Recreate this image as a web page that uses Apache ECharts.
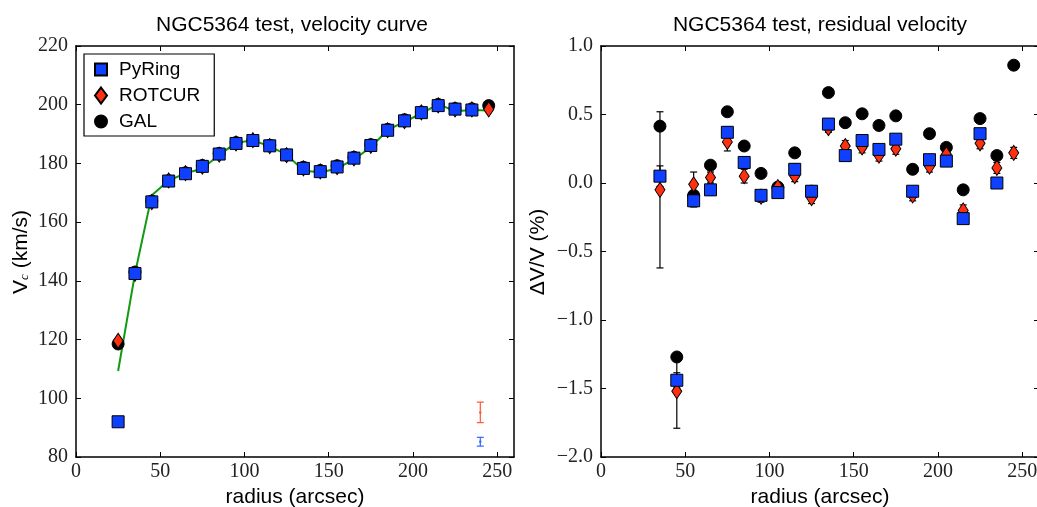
<!DOCTYPE html>
<html>
<head>
<meta charset="utf-8">
<script src="https://cdn.jsdelivr.net/npm/echarts@6/dist/echarts.min.js"></script>
<style>
html,body{margin:0;padding:0;background:#fff;}
#chart{width:1037px;height:507px;}
</style>
</head>
<body>
<div id="chart"></div>
<script>
// ---------- data ----------
const radius = [25,35,45,55,65,75,85,95,105,115,125,135,145,155,165,175,185,195,205,215,225,235,245];
// left panel: rotation velocities (km/s)
const pyringV = [92.0,142.5,166.9,174.0,176.5,179.0,183.2,186.8,187.8,186.0,182.9,178.3,177.2,178.8,181.8,186.1,191.3,194.5,197.3,199.7,198.5,198.2,null];
const rotcurV = [119.6,142.4,166.8,174.2,176.7,178.9,183.0,186.8,187.9,185.9,182.8,178.3,177.3,178.7,181.7,186.0,191.3,194.4,197.4,199.8,198.4,198.4,198.4];
const galV    = [118.5,143.0,167.2,174.1,176.8,179.3,183.4,187.1,187.9,186.2,182.9,178.7,177.6,179.2,182.1,186.4,191.6,194.9,197.5,200.1,198.7,198.6,199.7];
const modelV  = [109.3,142.4,169.2,174.2,176.6,178.3,182.9,187.0,187.9,185.8,183.0,177.6,176.9,178.3,181.4,185.5,191.4,194.2,197.0,200.2,197.8,198.2,198.0];
const pyringErrV = [0.3,0.3,0.3,0.3,0.3,0.3,0.3,0.3,0.3,0.3,0.3,0.3,0.3,0.3,0.3,0.3,0.3,0.3,0.3,0.3,0.3,0.3,null];
const rotcurErrV = [1.0,0.8,0.5,0.5,0.5,0.5,0.5,0.5,0.5,0.5,0.5,0.5,0.5,0.5,0.5,0.5,0.5,0.5,0.5,0.5,0.5,0.5,0.5];
// typical error bars (lower right of left panel): [radius, velocity, error]
const typErrRotcur = [240, 95.2, 3.5];
const typErrPyring = [240, 85.2, 1.5];
// right panel: residual velocity (%)
const pyringRes = [null,0.05,-1.44,-0.13,-0.05,0.37,0.15,-0.09,-0.07,0.10,-0.06,0.43,0.20,0.31,0.245,0.32,-0.06,0.17,0.16,-0.26,0.36,0.00,null];
const rotcurRes = [null,-0.05,-1.52,-0.01,0.04,0.30,0.05,-0.10,-0.03,0.05,-0.11,0.40,0.27,0.26,0.20,0.25,-0.09,0.12,0.21,-0.20,0.29,0.11,0.22];
const galRes    = [null,0.415,-1.27,-0.09,0.13,0.52,0.27,0.07,-0.03,0.22,-0.06,0.66,0.44,0.505,0.42,0.49,0.10,0.36,0.26,-0.05,0.47,0.20,0.86];
const pyringResErr = [null,0.075,0.055,0.045,0.04,0.04,0.04,0.035,0.035,0.04,0.035,0.035,0.04,0.035,0.035,0.035,0.035,0.035,0.035,0.035,0.035,0.035,null];
const rotcurResErr = [null,0.57,0.27,0.09,0.04,0.066,0.05,0.04,0.03,0.04,0.04,0.03,0.04,0.04,0.04,0.04,0.04,0.04,0.04,0.04,0.04,0.04,0.04];
// ticks
const xTicks = [0,50,100,150,200,250];
const yTicksLeft = [80,100,120,140,160,180,200,220];
const yTicksRight = [-2.0,-1.5,-1.0,-0.5,0.0,0.5,1.0];

// ---------- helpers ----------
function pairs(vals){ const out=[]; radius.forEach((r,i)=>{ if(vals[i]!==null) out.push([r, vals[i]]); }); return out; }
function triples(vals, errs){ const out=[]; radius.forEach((r,i)=>{ if(vals[i]!==null && errs[i]!==null) out.push([r, vals[i], errs[i]]); }); return out; }

const BLUE = '#1040ff', RED = '#ff3010', GREEN = '#109a10';
const SANS = 'Liberation Sans', SERIF = 'Liberation Serif';

function errRender(color, capW, lw, dot){
  return function(params, api){
    const x = api.value(0), y = api.value(1), e = api.value(2);
    const p1 = api.coord([x, y + e]), p2 = api.coord([x, y - e]), pc = api.coord([x, y]);
    const st = {stroke: color, lineWidth: lw};
    const ch = [
      {type:'line', shape:{x1:p1[0], y1:p1[1], x2:p2[0], y2:p2[1]}, style:st},
      {type:'line', shape:{x1:p1[0]-capW, y1:p1[1], x2:p1[0]+capW, y2:p1[1]}, style:st},
      {type:'line', shape:{x1:p2[0]-capW, y1:p2[1], x2:p2[0]+capW, y2:p2[1]}, style:st}
    ];
    if (dot) ch.push({type:'circle', shape:{cx:pc[0], cy:pc[1], r:1.2}, style:{fill:color}});
    return {type:'group', children: ch};
  };
}

const grids = [
  {left:76, top:46, width:438, height:411, outerBoundsMode:'none', containLabel:false},
  {left:601, top:46, width:438, height:411, outerBoundsMode:'none', containLabel:false}
];

function xAx(gi, pos){
  const main = pos === 'bottom';
  return {
    type:'value', gridIndex:gi, position:pos, min:0, max:260,
    name: main ? 'radius (arcsec)' : '', nameLocation:'middle', nameGap:30,
    nameTextStyle:{fontFamily:SANS, fontSize:21, color:'#000'},
    axisLine:{show:true, onZero:false, lineStyle:{color:'#000', width:1.5}},
    axisTick:{show:true, inside:true, length:5, customValues:xTicks, lineStyle:{color:'#000', width:1}},
    axisLabel:{show:main, customValues:xTicks, margin:5, fontFamily:SERIF, fontSize:20, color:'#222'},
    splitLine:{show:false}
  };
}
function yAx(gi, pos, mn, mx, step, ticks, fmt){
  const main = pos === 'left';
  return {
    type:'value', gridIndex:gi, position:pos, min:mn, max:mx, interval:step,
    axisLine:{show:true, onZero:false, lineStyle:{color:'#000', width:1.5}},
    axisTick:{show:true, inside:true, length:5, customValues:ticks, lineStyle:{color:'#000', width:1}},
    axisLabel:{show:main, customValues:ticks, margin:8, fontFamily:SERIF, fontSize:20, color:'#222', formatter:fmt},
    splitLine:{show:false}
  };
}
const fmtRight = v => (v < 0 ? '\u2212' : '') + Math.abs(v).toFixed(1);

const chart = echarts.init(document.getElementById('chart'), null, {renderer:'canvas'});
chart.setOption({
  animation:false,
  backgroundColor:'#fff',
  grid: grids,
  xAxis:[xAx(0,'bottom'), xAx(0,'top'), xAx(1,'bottom'), xAx(1,'top')],
  yAxis:[
    yAx(0,'left',80,220,20,yTicksLeft,v=>String(v)),
    yAx(0,'right',80,220,20,yTicksLeft,v=>String(v)),
    yAx(1,'left',-2,1,0.5,yTicksRight,fmtRight),
    yAx(1,'right',-2,1,0.5,yTicksRight,fmtRight)
  ],
  legend:{
    left:84, top:54, orient:'vertical', selectedMode:false,
    backgroundColor:'#fff', borderColor:'#000', borderWidth:1.2, borderRadius:0,
    padding:[6,14,5,10], itemGap:7, itemWidth:12, itemHeight:16,
    textStyle:{fontFamily:SANS, fontSize:19, color:'#000', padding:[0,0,0,7]},
    data:[
      {name:'PyRing', icon:'path://M0,0L10,0L10,10L0,10Z'},
      {name:'ROTCUR', icon:'diamond'},
      {name:'GAL', icon:'circle'}
    ],
    z:10
  },
  graphic:[
    {type:'text', x:292, y:25, style:{text:'NGC5364 test, velocity curve', fontFamily:SANS, fontSize:21, fill:'#000', align:'center', verticalAlign:'middle'}},
    {type:'text', x:820, y:25, style:{text:'NGC5364 test, residual velocity', fontFamily:SANS, fontSize:21, fill:'#000', align:'center', verticalAlign:'middle'}},
    {type:'text', x:21, y:252, rotation:Math.PI/2, style:{
      text:'{v|V}{s|c}{v| (km/s)}', align:'center', verticalAlign:'middle', fill:'#000',
      rich:{v:{fontFamily:SANS, fontSize:21, fill:'#000'}, s:{fontFamily:SERIF, fontStyle:'italic', fontSize:13, fill:'#000', verticalAlign:'bottom'}}
    }},
    {type:'text', x:538, y:252, rotation:Math.PI/2, style:{text:'\u0394V/V (%)', fontFamily:SANS, fontSize:21, fill:'#000', align:'center', verticalAlign:'middle'}}
  ],
  series:[
    // ----- left panel -----
    {type:'line', name:'model', xAxisIndex:0, yAxisIndex:0, data:pairs(modelV), symbol:'none', lineStyle:{color:GREEN, width:2}, z:2},
    {type:'scatter', name:'GAL', xAxisIndex:0, yAxisIndex:0, data:pairs(galV), symbol:'circle', symbolSize:12, itemStyle:{color:'#000', borderColor:'#000', borderWidth:1, opacity:1}, z:2},
    {type:'scatter', name:'ROTCUR', xAxisIndex:0, yAxisIndex:0, data:pairs(rotcurV), symbol:'diamond', symbolSize:[10,15], itemStyle:{color:RED, borderColor:'#000', borderWidth:1, opacity:1}, z:2},
    {type:'custom', xAxisIndex:0, yAxisIndex:0, data:triples(rotcurV, rotcurErrV), encode:{x:0,y:1}, renderItem:errRender('#000',3,1.2,false), z:2},
    {type:'scatter', name:'PyRing', xAxisIndex:0, yAxisIndex:0, data:pairs(pyringV), symbol:'rect', symbolSize:12, itemStyle:{color:BLUE, borderColor:'#000', borderWidth:1, opacity:1}, z:2},
    {type:'custom', xAxisIndex:0, yAxisIndex:0, data:triples(pyringV, pyringErrV), encode:{x:0,y:1}, renderItem:errRender('#000',3.5,1.2,false), z:2},
    {type:'custom', xAxisIndex:0, yAxisIndex:0, data:[typErrRotcur], encode:{x:0,y:1}, renderItem:errRender('#ff5533',3.5,1.2,true), z:2},
    {type:'custom', xAxisIndex:0, yAxisIndex:0, data:[typErrPyring], encode:{x:0,y:1}, renderItem:errRender('#3366ff',3.5,1.2,true), z:2},
    // ----- right panel -----
    {type:'scatter', name:'GAL', xAxisIndex:2, yAxisIndex:2, data:pairs(galRes), symbol:'circle', symbolSize:12, itemStyle:{color:'#000', borderColor:'#000', borderWidth:1, opacity:1}, z:2},
    {type:'scatter', name:'ROTCUR', xAxisIndex:2, yAxisIndex:2, data:pairs(rotcurRes), symbol:'diamond', symbolSize:[10,15], itemStyle:{color:RED, borderColor:'#000', borderWidth:1, opacity:1}, z:2},
    {type:'custom', xAxisIndex:2, yAxisIndex:2, data:triples(rotcurRes, rotcurResErr), encode:{x:0,y:1}, renderItem:errRender('#000',3.5,1.2,false), z:2},
    {type:'scatter', name:'PyRing', xAxisIndex:2, yAxisIndex:2, data:pairs(pyringRes), symbol:'rect', symbolSize:12, itemStyle:{color:BLUE, borderColor:'#000', borderWidth:1, opacity:1}, z:2},
    {type:'custom', xAxisIndex:2, yAxisIndex:2, data:triples(pyringRes, pyringResErr), encode:{x:0,y:1}, renderItem:errRender('#000',3.5,1.2,false), z:2}
  ]
});
</script>
</body>
</html>
